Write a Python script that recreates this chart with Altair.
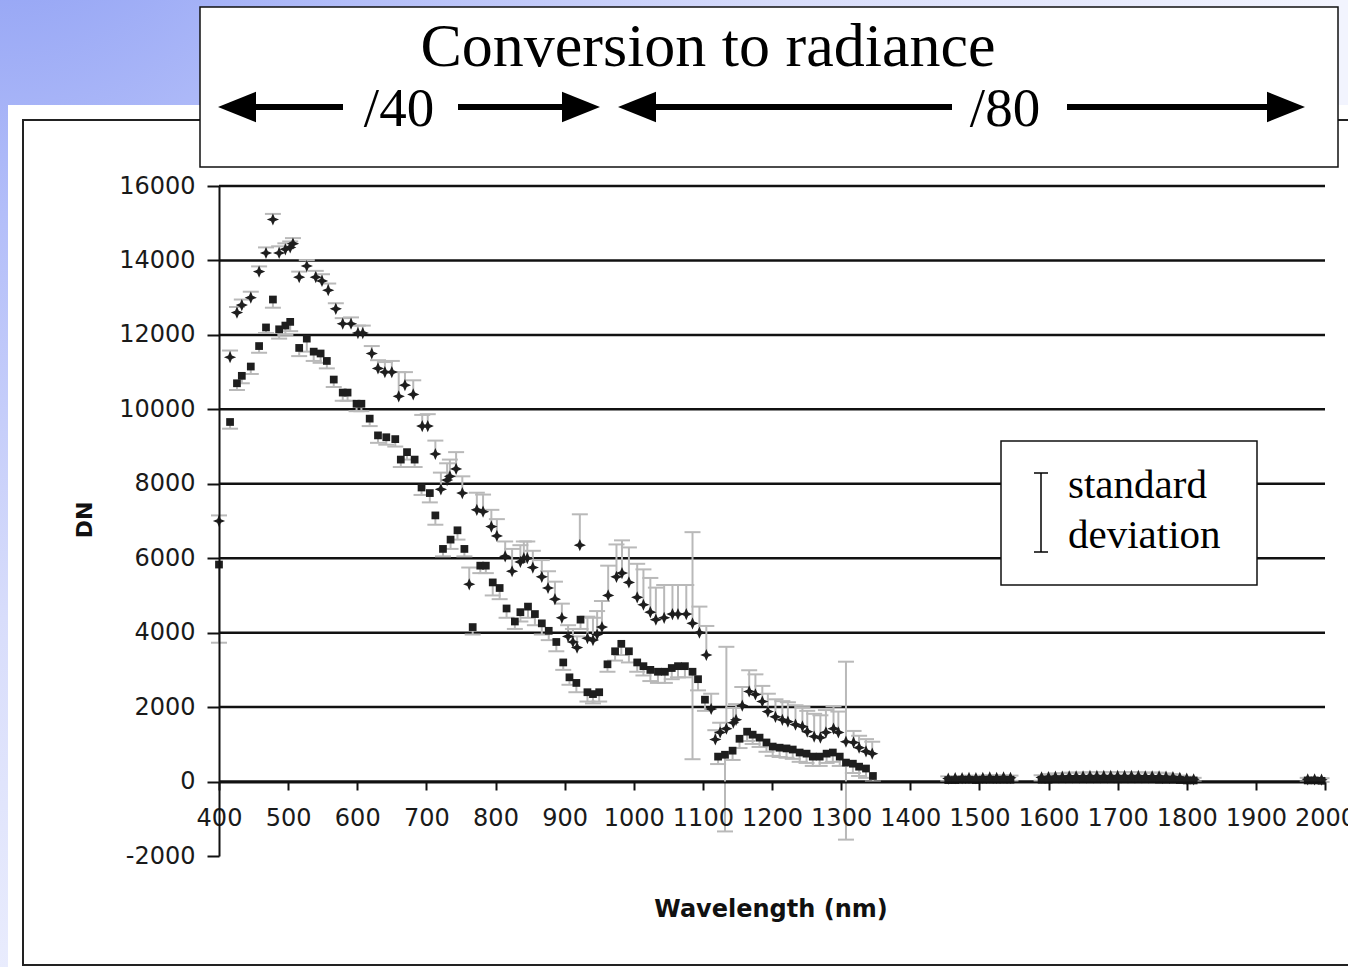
import altair as alt
import pandas as pd

# ---------------- data ----------------
cross_nm = [400, 416, 426, 433, 446, 458, 468, 478, 487, 496, 503, 507, 516, 527, 540, 549, 558, 569, 579, 591,
            601, 608, 621, 630, 640, 650, 660, 669, 681, 694, 702, 713, 721, 730, 734, 743, 752, 762, 773, 782,
            794, 802, 814, 824, 836, 841, 846, 854, 867, 876, 886, 896, 905, 912, 918, 922, 933, 941, 947, 954,
            963, 975, 983, 993, 1005, 1014, 1024, 1032, 1044, 1056, 1064, 1076, 1085, 1095, 1105, 1112, 1118,
            1125, 1134, 1144, 1148, 1157, 1167, 1176, 1186, 1194, 1205, 1215, 1223, 1234, 1244, 1251, 1261,
            1270, 1278, 1289, 1296, 1307, 1318, 1326, 1336, 1345]
cross_dn = [7000, 11400, 12600, 12800, 13000, 13700, 14200, 15100, 14200, 14300, 14350, 14450, 13550, 13850, 13550,
            13450, 13200, 12700, 12300, 12300, 12050, 12050, 11500, 11100, 11000, 11000, 10350, 10650, 10400, 9550,
            9550, 8800, 7850, 8100, 8200, 8400, 7750, 5300, 7300, 7250, 6850, 6600, 6050, 5650, 5900, 6000, 6000,
            5750, 5500, 5200, 4900, 4400, 3900, 3750, 3600, 6350, 3850, 3800, 3950, 4150, 5000, 5500, 5600, 5350,
            4950, 4750, 4550, 4350, 4400, 4500, 4500, 4500, 4250, 4000, 3400, 1950, 1130, 1320, 1420, 1580, 1660,
            2040, 2420, 2340, 2150, 1880, 1740, 1660, 1610, 1530, 1480, 1340, 1210, 1180, 1320, 1420, 1320, 1070,
            1050, 910, 810, 750]
cross_sd = [150, 180, 150, 150, 160, 140, 150, 150, 180, 160, 160, 150, 150, 160, 170, 180, 180, 150, 150, 170,
            200, 200, 200, 220, 270, 300, 650, 350, 380, 300, 320, 360, 450, 450, 450, 450, 450, 450, 460, 460,
            450, 450, 400, 600, 450, 450, 450, 450, 450, 450, 470, 380, 300, 350, 300, 830, 580, 600, 630, 700,
            800, 870, 880, 940, 900, 950, 920, 860, 880, 780, 780, 780, 2450, 700, 780, 410, 250, 260, 2200, 400,
            420, 500, 570, 540, 420, 480, 470, 500, 520, 520, 520, 560, 610, 600, 600, 600, 560, 2150, 310, 320,
            330, 320]

sq_nm = [400, 416, 426, 433, 446, 458, 468, 478, 487, 496, 503, 516, 527, 537, 547, 556, 566, 579, 586, 599,
         606, 618, 630, 642, 655, 663, 672, 683, 693, 705, 713, 724, 735, 745, 755, 767, 778, 786, 796, 806,
         816, 828, 836, 847, 857, 867, 877, 888, 898, 907, 917, 923, 933, 941, 950, 962, 973, 982, 993, 1005,
         1014, 1024, 1035, 1045, 1055, 1064, 1074, 1085, 1093, 1103, 1122, 1132, 1143, 1153, 1164, 1172, 1182,
         1192, 1201, 1211, 1221, 1230, 1240, 1250, 1259, 1269, 1279, 1288, 1298, 1307, 1317, 1326, 1336, 1346]
sq_dn = [5830, 9660, 10700, 10900, 11150, 11700, 12200, 12950, 12150, 12250, 12350, 11650, 11900, 11550, 11500,
         11300, 10800, 10450, 10450, 10150, 10150, 9750, 9300, 9250, 9200, 8650, 8850, 8650, 7900, 7750, 7150,
         6250, 6500, 6750, 6250, 4150, 5800, 5800, 5350, 5200, 4650, 4300, 4550, 4700, 4500, 4250, 4050, 3750,
         3200, 2800, 2650, 4350, 2400, 2350, 2400, 3150, 3500, 3700, 3500, 3200, 3100, 3000, 2950, 2950, 3050,
         3100, 3100, 2950, 2750, 2200, 670, 720, 830, 1150, 1340, 1260, 1180, 1050, 940, 910, 890, 860, 780, 750,
         670, 670, 750, 780, 670, 510, 480, 400, 350, 150]
sq_sd = [2100, 180, 180, 200, 200, 180, 150, 220, 250, 250, 250, 220, 350, 250, 250, 200, 200, 220, 220, 200,
         200, 200, 200, 200, 200, 200, 200, 200, 200, 250, 250, 200, 250, 250, 200, 200, 200, 200, 350, 300,
         250, 200, 250, 300, 300, 300, 250, 250, 200, 200, 250, 250, 250, 250, 250, 200, 250, 300, 300, 250,
         250, 300, 300, 300, 300, 300, 300, 2350, 300, 300, 200, 2060, 250, 250, 250, 250, 250, 250, 250, 250,
         250, 250, 250, 250, 250, 250, 250, 250, 250, 2070, 250, 250, 250, 150]

far_nm = [1455, 1465, 1475, 1485, 1495, 1505, 1515, 1525, 1535, 1545,
          1590, 1600, 1610, 1620, 1630, 1640, 1650, 1660, 1670, 1680, 1690, 1700,
          1710, 1720, 1730, 1740, 1750, 1760, 1770, 1780, 1790, 1800, 1810,
          1975, 1985, 1995]
far_cross_dn = [80, 90, 90, 100, 90, 100, 110, 100, 110, 100,
                110, 120, 130, 130, 140, 140, 140, 150, 150, 150, 150, 150,
                150, 150, 150, 140, 140, 140, 130, 120, 100, 80, 60,
                60, 60, 50]
far_cross_sd = [60, 60, 60, 60, 60, 60, 60, 60, 60, 60,
                60, 80, 90, 90, 100, 100, 100, 100, 100, 100, 100, 100,
                100, 100, 100, 100, 100, 100, 90, 80, 60, 50, 40,
                40, 40, 40]
far_sq_dn = [40, 40, 50, 50, 40, 50, 50, 50, 50, 50,
             50, 50, 60, 60, 60, 60, 60, 60, 60, 60, 60, 60,
             60, 60, 60, 60, 60, 50, 50, 50, 40, 30, 30,
             30, 30, 20]

x_ticks = [400, 500, 600, 700, 800, 900, 1000, 1100, 1200, 1300, 1400, 1500, 1600, 1700, 1800, 1900, 2000]
y_ticks = [-2000, 0, 2000, 4000, 6000, 8000, 10000, 12000, 14000, 16000]
grid_values = [0, 2000, 4000, 6000, 8000, 10000, 12000, 14000, 16000]

title_text = "Conversion to radiance"
left_label = "/40"
right_label = "/80"
legend_lines = ["standard", "deviation"]
x_title = "Wavelength (nm)"
y_title = "DN"

# ---------------- tables ----------------
cross_df = pd.DataFrame({"nm": cross_nm + far_nm,
                         "dn": cross_dn + far_cross_dn,
                         "sd": cross_sd + far_cross_sd})
cross_df["hi"] = cross_df["dn"] + cross_df["sd"]
sq_df = pd.DataFrame({"nm": sq_nm + far_nm,
                      "dn": sq_dn + far_sq_dn,
                      "sd": sq_sd + [30] * len(far_nm)})
sq_df["lo"] = sq_df["dn"] - sq_df["sd"]
grid_df = pd.DataFrame({"v": grid_values})
one = pd.DataFrame({"k": [0]})

# ---------------- layout ----------------
W, H = 1106, 670
OX, OY = 219, 186          # plot origin inside the 1348x967 page


def px(x):
    return x - OX


def py(y):
    return y - OY


xscale = alt.Scale(domain=[400, 2000], nice=False, zero=False)
yscale = alt.Scale(domain=[-2000, 16000], nice=False, zero=False)
xaxis = alt.Axis(values=x_ticks, labelExpr="toString(datum.value)", title=None, grid=False, offset=-74,
                 tickSize=8, labelPadding=16, labelOverlap=False, labelFlush=False, zindex=1)
yaxis = alt.Axis(values=y_ticks, labelExpr="toString(datum.value)", title=None, grid=False, tickSize=12,
                 labelPadding=12, labelOverlap=False, zindex=1)


def X(field):
    return alt.X(field, type="quantitative", scale=xscale, axis=xaxis)


def Y(field):
    return alt.Y(field, type="quantitative", scale=yscale, axis=yaxis)


def rect(x1, y1, x2, y2, **kw):
    return alt.Chart(one).mark_rect(**kw).encode(
        x=alt.value(px(x1)), x2=alt.value(px(x2)), y=alt.value(py(y1)), y2=alt.value(py(y2)))


def text(t, x, y, **kw):
    return alt.Chart(one).mark_text(text=t, **kw).encode(x=alt.value(px(x)), y=alt.value(py(y)))


def hline(x1, x2, y, **kw):
    return alt.Chart(one).mark_rule(**kw).encode(x=alt.value(px(x1)), x2=alt.value(px(x2)), y=alt.value(py(y)))


def vline(x, y1, y2, **kw):
    return alt.Chart(one).mark_rule(**kw).encode(x=alt.value(px(x)), y=alt.value(py(y1)), y2=alt.value(py(y2)))


LEFT_HEAD = "M -1 0 L 1 -0.8 L 1 0.8 Z"
RIGHT_HEAD = "M 1 0 L -1 -0.8 L -1 0.8 Z"


def head(shape, x, y):
    return alt.Chart(one).mark_point(shape=shape, size=1444, filled=True, color="black", opacity=1,
                                     strokeWidth=0).encode(x=alt.value(px(x)), y=alt.value(py(y)))


bg = rect(0, 0, 1348, 967, strokeWidth=0,
          fill=alt.RadialGradient(gradient="radial", x1=0, y1=0, r1=0, x2=0, y2=0, r2=1,
                                  stops=[alt.GradientStop(color="#8396f2", offset=0),
                                         alt.GradientStop(color="#b3bef9", offset=0.3),
                                         alt.GradientStop(color="#d8ddfb", offset=0.6),
                                         alt.GradientStop(color="#f2f4fe", offset=1)]))
white = rect(8, 105, 1400, 1000, fill="white", strokeWidth=0)
border = rect(23, 120, 1400, 965, fill="white", fillOpacity=0, stroke="#222", strokeWidth=2)

grid = alt.Chart(grid_df).mark_rule(color="#111", strokeWidth=2.5).encode(y=Y("v"))

ERR = "#b9b9b9"
CAP = "M -1 0 L 1 0"
cross_bar = alt.Chart(cross_df).mark_rule(color=ERR, strokeWidth=2).encode(x=X("nm"), y=Y("dn"), y2="hi")
cross_cap = alt.Chart(cross_df).mark_point(shape=CAP, size=256, filled=False, color=ERR, strokeWidth=2,
                                           opacity=1).encode(x=X("nm"), y=Y("hi"))
sq_bar = alt.Chart(sq_df).mark_rule(color=ERR, strokeWidth=2).encode(x=X("nm"), y=Y("lo"), y2="dn")
sq_cap = alt.Chart(sq_df).mark_point(shape=CAP, size=256, filled=False, color=ERR, strokeWidth=2,
                                     opacity=1).encode(x=X("nm"), y=Y("lo"))

STAR = "M 0 -1 L 0.3 -0.3 L 1 0 L 0.3 0.3 L 0 1 L -0.3 0.3 L -1 0 L -0.3 -0.3 Z"
sq_pts = alt.Chart(sq_df).mark_point(shape="square", size=60, filled=True, color="#1e1e1e",
                                     opacity=1).encode(x=X("nm"), y=Y("dn"))
cross_pts = alt.Chart(cross_df).mark_point(shape=STAR, size=150, filled=True, color="#1e1e1e",
                                           opacity=1).encode(x=X("nm"), y=Y("dn"))

SERIF = "Liberation Serif"
title_box = rect(200, 7, 1338, 167, fill="white", stroke="#111", strokeWidth=1.5)
title = text(title_text, 708, 66, font=SERIF, fontSize=62, align="center", baseline="alphabetic", color="black")
lab40 = text(left_label, 399, 126, font=SERIF, fontSize=55, align="center", baseline="alphabetic", color="black")
lab80 = text(right_label, 1005, 126, font=SERIF, fontSize=55, align="center", baseline="alphabetic", color="black")
ARW = 6
AY = 107
arrows = [
    hline(240, 343, AY, color="black", strokeWidth=ARW), head(LEFT_HEAD, 237, AY),
    hline(458, 585, AY, color="black", strokeWidth=ARW), head(RIGHT_HEAD, 581, AY),
    hline(630, 952, AY, color="black", strokeWidth=ARW), head(LEFT_HEAD, 637, AY),
    hline(1067, 1290, AY, color="black", strokeWidth=ARW), head(RIGHT_HEAD, 1286, AY),
]

legend_box = rect(1001, 441, 1257, 585, fill="white", stroke="#111", strokeWidth=1.5)
ibeam = [vline(1041, 473, 552, color="black", strokeWidth=1.5),
         hline(1034, 1048, 473, color="black", strokeWidth=1.5),
         hline(1034, 1048, 552, color="black", strokeWidth=1.5)]
leg1 = text(legend_lines[0], 1068, 498, font=SERIF, fontSize=41, align="left", baseline="alphabetic", color="black")
leg2 = text(legend_lines[1], 1068, 548, font=SERIF, fontSize=41, align="left", baseline="alphabetic", color="black")

xt = text(x_title, 771, 910, font="DejaVu Sans", fontSize=24, fontWeight="bold", align="center",
          baseline="middle", color="#111")
yt = text(y_title, 85, 520, font="DejaVu Sans", fontSize=22, fontWeight="bold", align="center",
          baseline="middle", angle=270, color="#111")

chart = alt.layer(
    bg, white, border, grid,
    cross_bar, sq_bar, cross_cap, sq_cap, sq_pts, cross_pts,
    title_box, title, lab40, lab80, *arrows,
    legend_box, *ibeam, leg1, leg2, xt, yt,
).properties(
    width=W, height=H,
    autosize=alt.AutoSizeParams(type="none"),
    padding={"left": OX, "top": OY, "right": 1348 - OX - W, "bottom": 967 - OY - H},
    background="white",
).configure_view(strokeWidth=0).configure_axis(
    labelFont="DejaVu Sans", labelFontSize=24, labelColor="#1a1a1a",
    domainColor="#111", domainWidth=2, tickColor="#111", tickWidth=2,
)

chart.save("out.html", embed_options={"renderer": "svg", "actions": False})
